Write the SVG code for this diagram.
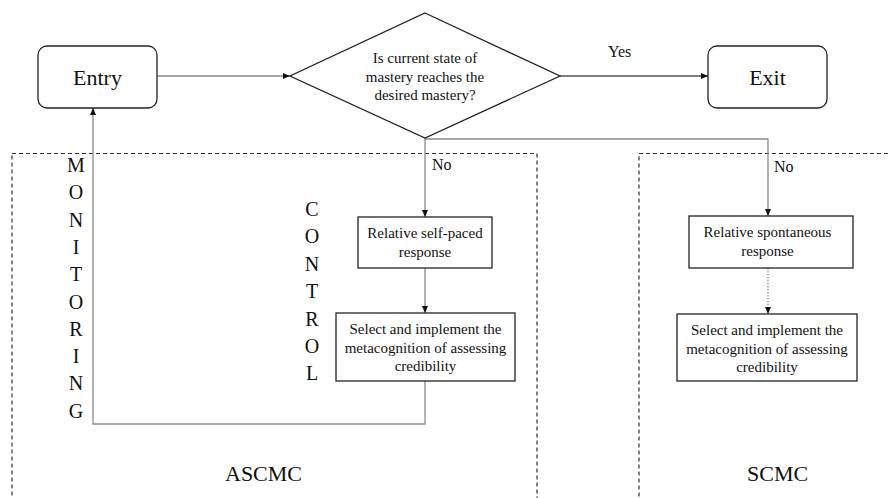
<svg xmlns="http://www.w3.org/2000/svg" width="891" height="498" viewBox="0 0 891 498">
<defs>
<style>
.shape{fill:#fff;stroke:#222;stroke-width:1.3}
.conn{fill:none;stroke:#8a8a8a;stroke-width:1.3}
.dark{stroke:#555}
.dot{stroke-dasharray:1.5 1.5}
.region{fill:none;stroke:#333;stroke-width:1.2;stroke-dasharray:4 3}
.t{font-family:'Liberation Serif','Times New Roman',serif;fill:#111}
.big{font-size:22px}
.mid{font-size:16px}
.sm{font-size:15px}
.let{font-size:20px}
</style>
<marker id="arr" viewBox="0 0 7 6" markerWidth="7" markerHeight="6" refX="7" refY="3" orient="auto" markerUnits="userSpaceOnUse">
<path d="M0,0 L7,3 L0,6 z" fill="#111"/>
</marker>
</defs>
<rect width="891" height="498" fill="#fff"/>

<g font-family="Liberation Serif, Times New Roman, serif">
<g id="regions">
<rect class="region" x="12" y="153.5" width="525" height="360"/>
<rect class="region" x="639" y="153.5" width="270" height="360"/>
</g>

<g id="connectors">
<line class="conn" x1="157" y1="76" x2="290" y2="76" marker-end="url(#arr)"/>
<line class="conn dark" x1="560" y1="76" x2="708" y2="76" marker-end="url(#arr)"/>
<line class="conn" x1="425" y1="138" x2="425" y2="217" marker-end="url(#arr)"/>
<polyline class="conn" points="425,139 768,139 768,216" marker-end="url(#arr)"/>
<line class="conn" x1="425" y1="268" x2="425" y2="313" marker-end="url(#arr)"/>
<line class="conn dot" x1="768" y1="268" x2="768" y2="314" marker-end="url(#arr)"/>
<polyline class="conn" points="425,381 425,424 93,424 93,108" marker-end="url(#arr)"/>
<text class="t mid" x="608" y="57">Yes</text>
<text class="t mid" x="432" y="170">No</text>
<text class="t mid" x="774" y="172">No</text>
</g>

<g id="entry">
<rect class="shape" x="38" y="46" width="119" height="62" rx="9"/>
<text class="t big" x="97.5" y="85" text-anchor="middle">Entry</text>
</g>

<g id="decision">
<polygon class="shape" points="425,13 560,76 425,138 290,76"/>
<text class="t sm" x="425" y="63" text-anchor="middle">Is current state of</text>
<text class="t sm" x="425" y="81.5" text-anchor="middle">mastery reaches the</text>
<text class="t sm" x="425" y="100" text-anchor="middle">desired mastery?</text>
</g>

<g id="exit">
<rect class="shape" x="708" y="46" width="119" height="62" rx="9"/>
<text class="t big" x="767.5" y="85" text-anchor="middle">Exit</text>
</g>

<g id="self-paced">
<rect class="shape" x="358" y="217" width="134" height="51"/>
<text class="t sm" x="425" y="238" text-anchor="middle">Relative self-paced</text>
<text class="t sm" x="425" y="257" text-anchor="middle">response</text>
</g>

<g id="select-left">
<rect class="shape" x="336" y="313" width="179" height="68"/>
<text class="t sm" x="425.5" y="334" text-anchor="middle">Select and implement the</text>
<text class="t sm" x="425.5" y="352.5" text-anchor="middle">metacognition of assessing</text>
<text class="t sm" x="425.5" y="371" text-anchor="middle">credibility</text>
</g>

<g id="spontaneous">
<rect class="shape" x="689" y="216" width="164" height="52"/>
<text class="t sm" x="767.5" y="237" text-anchor="middle">Relative spontaneous</text>
<text class="t sm" x="767.5" y="256" text-anchor="middle">response</text>
</g>

<g id="select-right">
<rect class="shape" x="677" y="314" width="180" height="67"/>
<text class="t sm" x="767" y="335" text-anchor="middle">Select and implement the</text>
<text class="t sm" x="767" y="353.5" text-anchor="middle">metacognition of assessing</text>
<text class="t sm" x="767" y="372" text-anchor="middle">credibility</text>
</g>

<g id="monitoring">
<text class="t let" text-anchor="middle">
<tspan x="76" y="172">M</tspan><tspan x="76" y="199.3">O</tspan><tspan x="76" y="226.6">N</tspan><tspan x="76" y="253.9">I</tspan><tspan x="76" y="281.2">T</tspan><tspan x="76" y="308.5">O</tspan><tspan x="76" y="335.8">R</tspan><tspan x="76" y="363.1">I</tspan><tspan x="76" y="390.4">N</tspan><tspan x="76" y="417.7">G</tspan>
</text>
</g>

<g id="control">
<text class="t let" text-anchor="middle">
<tspan x="312" y="216">C</tspan><tspan x="312" y="243.4">O</tspan><tspan x="312" y="270.8">N</tspan><tspan x="312" y="298.2">T</tspan><tspan x="312" y="325.6">R</tspan><tspan x="312" y="353">O</tspan><tspan x="312" y="380.4">L</tspan>
</text>
</g>

<g id="labels">
<text class="t big" x="225" y="481">ASCMC</text>
<text class="t big" x="747" y="481">SCMC</text>
</g>
</g>
</svg>
